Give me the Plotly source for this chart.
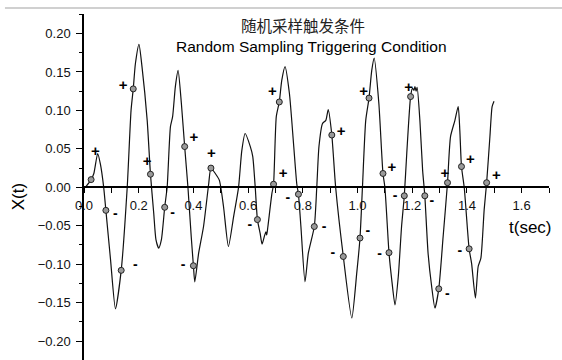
import plotly.graph_objects as go

# Continuous signal X(t)
curve_t = [0.005, 0.026, 0.036, 0.050, 0.060, 0.072, 0.080, 0.097, 0.115, 0.136, 0.158, 0.172,
           0.180, 0.188, 0.201, 0.212, 0.231, 0.243, 0.255, 0.263, 0.273, 0.283, 0.295, 0.304,
           0.316, 0.324, 0.334, 0.344, 0.356, 0.368, 0.380, 0.392, 0.400, 0.405, 0.419, 0.437,
           0.456, 0.464, 0.480, 0.495, 0.510, 0.528, 0.547, 0.565, 0.577, 0.589, 0.608, 0.617,
           0.626, 0.634, 0.644, 0.651, 0.660, 0.665, 0.668, 0.672, 0.687, 0.693, 0.703, 0.714,
           0.723, 0.735, 0.751, 0.766, 0.778, 0.784, 0.793, 0.808, 0.820, 0.842, 0.851, 0.859,
           0.872, 0.884, 0.893, 0.906, 0.920, 0.948, 0.979, 0.997, 1.009, 1.018, 1.030, 1.042,
           1.052, 1.061, 1.078, 1.093, 1.100, 1.115, 1.125, 1.137, 1.149, 1.161, 1.171, 1.180,
           1.194, 1.201, 1.206, 1.210, 1.214, 1.218, 1.228, 1.238, 1.246, 1.258, 1.271, 1.283,
           1.297, 1.313, 1.329, 1.340, 1.356, 1.368, 1.374, 1.380, 1.390, 1.408, 1.417, 1.431,
           1.441, 1.451, 1.463, 1.472, 1.484, 1.492, 1.499]
curve_x = [0.000, 0.010, 0.018, 0.044, 0.030, 0.000, -0.030, -0.094, -0.158, -0.108, 0.000, 0.100,
           0.128, 0.161, 0.186, 0.157, 0.087, 0.017, -0.034, -0.068, -0.079, -0.068, -0.026, 0.000,
           0.079, 0.092, 0.131, 0.152, 0.109, 0.053, 0.000, -0.064, -0.102, -0.123, -0.086, -0.051,
           0.005, 0.025, 0.018, 0.009, -0.025, -0.077, -0.038, 0.000, 0.048, 0.070, 0.053, 0.040,
           0.000, -0.042, -0.060, -0.074, -0.063, -0.058, -0.062, -0.052, -0.008, 0.004, 0.092, 0.111,
           0.139, 0.157, 0.122, 0.057, 0.004, -0.009, -0.051, -0.123, -0.086, -0.051, 0.000, 0.053,
           0.083, 0.087, 0.101, 0.068, 0.000, -0.090, -0.170, -0.112, -0.066, 0.000, 0.087, 0.116,
           0.152, 0.168, 0.109, 0.018, 0.000, -0.085, -0.120, -0.153, -0.116, -0.051, -0.011, 0.044,
           0.118, 0.129, 0.126, 0.131, 0.125, 0.130, 0.087, 0.022, -0.011, -0.086, -0.129, -0.157,
           -0.132, -0.064, 0.006, 0.066, 0.087, 0.105, 0.074, 0.027, 0.000, -0.080, -0.099, -0.144,
           -0.103, -0.092, -0.029, 0.006, 0.066, 0.105, 0.112]

# Random sampling points
sample_t = [0.026, 0.080, 0.136, 0.180, 0.243, 0.295, 0.368, 0.400, 0.464, 0.634, 0.693, 0.714,
            0.784, 0.842, 0.906, 0.948, 1.009, 1.042, 1.093, 1.115, 1.171, 1.194, 1.246, 1.297,
            1.329, 1.380, 1.408, 1.472]
sample_x = [0.010, -0.030, -0.108, 0.128, 0.017, -0.026, 0.053, -0.102, 0.025, -0.042, 0.004, 0.111,
            -0.009, -0.051, 0.068, -0.090, -0.066, 0.116, 0.018, -0.085, -0.011, 0.118, -0.011, -0.132,
            0.006, 0.027, -0.080, 0.006]

# Trigger condition labels
plus_t = [0.042, 0.143, 0.231, 0.402, 0.466, 0.689, 0.728, 0.940, 1.022, 1.126, 1.187, 1.319, 1.413, 1.508]
plus_x = [0.046, 0.131, 0.032, 0.064, 0.043, 0.123, 0.017, 0.072, 0.123, 0.025, 0.129, 0.017, 0.035, 0.015]
minus_t = [0.115, 0.188, 0.324, 0.362, 0.606, 0.745, 0.878, 0.910, 1.038, 1.081, 1.137, 1.272, 1.328, 1.374]
minus_x = [-0.035, -0.102, -0.034, -0.102, -0.050, -0.015, -0.052, -0.086, -0.057, -0.087, -0.012, -0.019, -0.140, -0.084]

title_cn = "随机采样触发条件"
title_en = "Random Sampling Triggering Condition"
x_title = "t(sec)"
y_title = "X(t)"

FONT = "Liberation Sans, Arial, sans-serif"

fig = go.Figure()
fig.add_trace(go.Scatter(x=curve_t, y=curve_x, mode="lines",
                         line=dict(color="#111111", width=1.2, shape="spline", smoothing=0.6),
                         hoverinfo="skip"))
fig.add_trace(go.Scatter(x=sample_t, y=sample_x, mode="markers",
                         marker=dict(size=6, color="#9a9a9a", line=dict(color="#222222", width=1)),
                         hoverinfo="skip"))
fig.add_trace(go.Scatter(x=plus_t, y=plus_x, mode="text", text=["+"] * len(plus_t),
                         textposition="middle center",
                         textfont=dict(family=FONT, size=15, color="#000000", weight="bold"),
                         hoverinfo="skip"))
fig.add_trace(go.Scatter(x=minus_t, y=minus_x, mode="text", text=["-"] * len(minus_t),
                         textposition="middle center",
                         textfont=dict(family=FONT, size=14, color="#000000", weight="bold"),
                         hoverinfo="skip"))

y_lo, y_hi = -0.2246, 0.2254
zero_pos = (0 - y_lo) / (y_hi - y_lo)

fig.update_layout(
    width=562, height=360,
    margin=dict(l=84, r=13, t=14, b=0),
    paper_bgcolor="white", plot_bgcolor="white",
    showlegend=False,
    font=dict(family=FONT, size=13, color="#000000"),
    xaxis=dict(range=[0, 1.7], anchor="free", position=zero_pos,
               showline=True, linecolor="black", linewidth=1.5,
               showgrid=False, zeroline=False,
               dtick=0.2, tick0=0, tickformat=".1f",
               ticks="outside", ticklen=5, tickwidth=1.2, tickcolor="black",
               ticklabelstandoff=1,
               minor=dict(dtick=0.1, ticks="outside", ticklen=5, tickwidth=1.2, tickcolor="black"),
               tickfont=dict(family=FONT, size=13, color="#111111")),
    yaxis=dict(range=[y_lo, y_hi], showline=True, linecolor="black", linewidth=1.5,
               showgrid=False, zeroline=False,
               dtick=0.05, tick0=0, tickformat=".2f",
               ticks="outside", ticklen=6, tickwidth=1.2, tickcolor="black",
               ticklabelstandoff=3,
               minor=dict(dtick=0.025, ticks="outside", ticklen=3, tickwidth=1.2, tickcolor="black"),
               tickfont=dict(family=FONT, size=13, color="#111111")),
)

fig.add_shape(type="line", xref="paper", yref="paper", x0=-0.17, x1=1.03, y0=1.0173, y1=1.0173,
              line=dict(color="#c0c0c0", width=1.5))

fig.add_annotation(text=title_cn, xref="paper", yref="paper", x=0.472, y=0.968,
                   showarrow=False, xanchor="center", yanchor="middle",
                   font=dict(family="Noto Sans CJK SC", size=15.5, color="#222222"))
fig.add_annotation(text=title_en, xref="paper", yref="paper", x=0.489, y=0.905,
                   showarrow=False, xanchor="center", yanchor="middle",
                   font=dict(family=FONT, size=15.5, color="#000000"))
fig.add_annotation(text=x_title, xref="paper", yref="paper", x=0.960, y=0.3835,
                   showarrow=False, xanchor="center", yanchor="middle",
                   font=dict(family=FONT, size=17, color="#000000"))
fig.add_annotation(text=y_title, xref="paper", yref="paper", x=-0.142, y=0.473,
                   showarrow=False, xanchor="center", yanchor="middle", textangle=-90,
                   font=dict(family=FONT, size=17, color="#000000"))

fig.write_html("out.html")
